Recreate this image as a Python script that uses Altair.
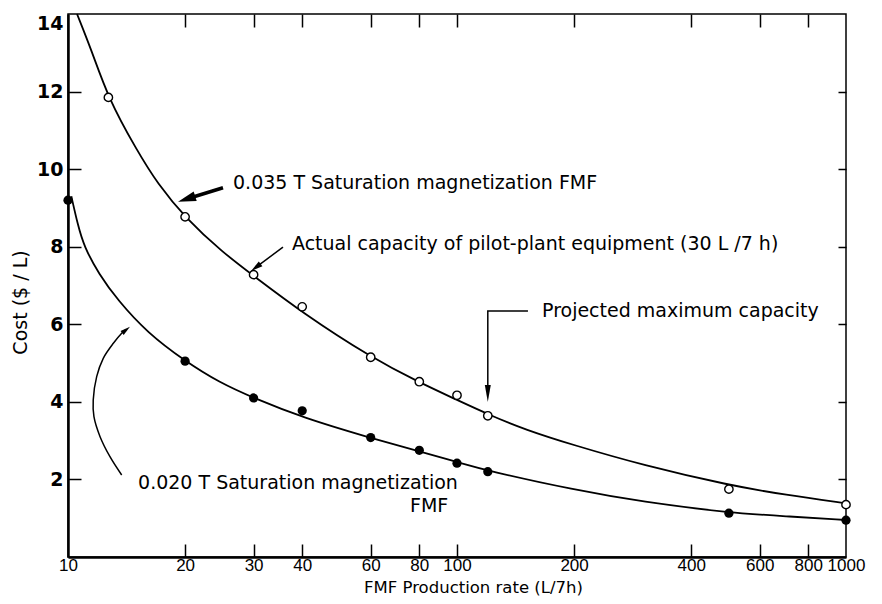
import math
import altair as alt
import pandas as pd

# ---------------- data ----------------
rate_open = [12.7, 20, 30, 40, 60, 80, 100, 120, 500, 1000]
cost_open = [11.85, 8.77, 7.28, 6.45, 5.15, 4.52, 4.17, 3.64, 1.75, 1.35]

rate_filled = [10, 20, 30, 40, 60, 80, 100, 120, 500, 1000]
cost_filled = [9.2, 5.05, 4.10, 3.77, 3.08, 2.75, 2.42, 2.20, 1.13, 0.95]

curve_hi_rate = [10.55, 11.5, 12.7, 15, 17, 20, 25, 30, 40, 60, 80, 100, 120, 150, 200, 300, 500, 700, 1000]
curve_hi_cost = [14.0, 13.06, 11.82, 10.5, 9.62, 8.75, 7.85, 7.25, 6.3, 5.15, 4.5, 4.05, 3.68, 3.28, 2.88, 2.37, 1.85, 1.6, 1.385]

curve_lo_rate = [10.2, 10.6, 11, 12, 13.4, 16, 20, 24.5, 30, 40, 60, 80, 100, 120, 200, 300, 500, 700, 1000]
curve_lo_cost = [9.3, 8.56, 8.0, 7.3, 6.63, 5.78, 5.05, 4.5, 4.1, 3.6, 3.07, 2.72, 2.45, 2.22, 1.73, 1.42, 1.14, 1.05, 0.954]

x_label_values = [10, 20, 30, 40, 60, 80, 100, 200, 400, 600, 800, 1000]
x_tick_values = [20, 30, 40, 60, 80, 100, 200, 400, 600, 800]
y_label_values = [2, 4, 6, 8, 10, 12, 14]
y_tick_values = [2, 4, 6, 8, 10, 12]

# annotation texts (anchored in data space)
note_text = [
    "0.035 T Saturation magnetization FMF",
    "Actual capacity of pilot-plant equipment (30 L /7 h)",
    "Projected maximum capacity",
    "0.020 T Saturation magnetization",
    "FMF",
]
note_rate = [26.56, 37.65, 165.4, 15.14, 75.7]
note_cost = [9.49, 7.915, 6.19, 1.75, 1.16]

# arrow shafts (data space)
arrow1_rate = [25.03, 20.18]
arrow1_cost = [9.52, 9.23]
arrow2_rate = [35.7, 30.4]
arrow2_cost = [7.99, 7.467]
arrow3_rate = [152.2, 120, 120]
arrow3_cost = [6.343, 6.343, 4.228]
arrow4_rate = [13.74, 12.82, 12.09, 11.66, 11.61, 11.85, 12.32, 13.08, 13.74, 14.1]
arrow4_cost = [2.114, 2.586, 3.102, 3.617, 4.048, 4.649, 5.123, 5.51, 5.768, 5.87]

# arrow tips (data space)
tip_rate = [19.18, 29.54, 120, 14.43]
tip_cost = [9.16, 7.374, 3.996, 5.938]
tip_from_rate = [arrow1_rate[-1], arrow2_rate[-1], arrow3_rate[-1], arrow4_rate[-2]]
tip_from_cost = [arrow1_cost[-1], arrow2_cost[-1], arrow3_cost[-1], arrow4_cost[-2]]
tip_shape = ["M0,0L0.5,1.8L-0.5,1.8Z", "M0,0L0.5,2L-0.5,2Z",
             "M0,0L0.35,2L-0.35,2Z", "M0,0L0.5,2L-0.5,2Z"]
tip_size = [400, 144, 289, 100]

# ---------------- layout ----------------
W, H = 778, 543
FONT = "DejaVu Sans"
TICK_FONT = "Liberation Sans"


def to_px(r, c):
    return W * math.log10(r / 10.0) / 2.0, H * (1 - c / 14.0)


def heading(r0, c0, r1, c1):
    x0, y0 = to_px(r0, c0)
    x1, y1 = to_px(r1, c1)
    return math.degrees(math.atan2(x1 - x0, -(y1 - y0))) % 360


tips = pd.DataFrame({
    "rate": tip_rate,
    "cost": tip_cost,
    "angle": [heading(a, b, c, d) for a, b, c, d in zip(tip_from_rate, tip_from_cost, tip_rate, tip_cost)],
    "shape": tip_shape,
    "size": tip_size,
})

df_hi = pd.DataFrame({"rate": curve_hi_rate, "cost": curve_hi_cost})
df_lo = pd.DataFrame({"rate": curve_lo_rate, "cost": curve_lo_cost})
df_open = pd.DataFrame({"rate": rate_open, "cost": cost_open})
df_filled = pd.DataFrame({"rate": rate_filled, "cost": cost_filled})
df_notes = pd.DataFrame({"rate": note_rate, "cost": note_cost, "label": note_text})
df_a1 = pd.DataFrame({"rate": arrow1_rate, "cost": arrow1_cost, "ord": range(len(arrow1_rate))})
df_thin = pd.concat([
    pd.DataFrame({"rate": arrow2_rate, "cost": arrow2_cost, "ord": range(len(arrow2_rate)), "id": "a2"}),
    pd.DataFrame({"rate": arrow3_rate, "cost": arrow3_cost, "ord": range(len(arrow3_rate)), "id": "a3"}),
])
df_a4 = pd.DataFrame({"rate": arrow4_rate, "cost": arrow4_cost, "ord": range(len(arrow4_rate))})

xs = alt.Scale(type="log", domain=[10, 1000])
ys = alt.Scale(domain=[0, 14])

ax_bottom_main = alt.Axis(
    orient="bottom", values=x_label_values, format="d", grid=False,
    domain=True, domainColor="black", domainWidth=2.5,
    ticks=False, tickSize=0,
    labelFont=TICK_FONT, labelFontSize=17, labelColor="black", labelPadding=0.5,
    labelFlush=False, labelOverlap=False,
    title="FMF Production rate (L/7h)", titleFont=FONT, titleFontSize=16.5,
    titleFontWeight="normal", titleColor="black",
    titleX=405, titleY=35, titleAlign="center", titleBaseline="alphabetic",
)
ax_left_main = alt.Axis(
    orient="left", values=y_label_values, format="d", grid=False,
    domain=True, domainColor="black", domainWidth=2.5,
    ticks=False, tickSize=0,
    labelFont=FONT, labelFontSize=19, labelFontWeight="bold", labelColor="black",
    labelPadding=5, labelFlush=True, labelOverlap=False,
    title="Cost ($ / L)", titleFont=FONT, titleFontSize=19, titleFontWeight="normal",
    titleColor="black", titleAngle=270, titleX=-48, titleY=288,
    titleAlign="center", titleBaseline="middle",
)


def tick_axis(orient, values, size):
    return alt.Axis(
        orient=orient, values=values, grid=False, domain=False, labels=False,
        ticks=True, tickSize=size, tickWidth=1.5, tickColor="black",
        offset=-size, title=None,
    )


hi = alt.Chart(df_hi).mark_line(color="black", strokeWidth=1.8, interpolate="basis").encode(
    x=alt.X("rate:Q", scale=xs, axis=ax_bottom_main),
    y=alt.Y("cost:Q", scale=ys, axis=ax_left_main),
)
lo = alt.Chart(df_lo).mark_line(color="black", strokeWidth=1.8, interpolate="basis").encode(
    x=alt.X("rate:Q", scale=xs, axis=tick_axis("bottom", x_tick_values, 13)),
    y=alt.Y("cost:Q", scale=ys, axis=tick_axis("left", y_tick_values, 13)),
)
pts_open = alt.Chart(df_open).mark_point(
    shape="circle", filled=True, fill="white", stroke="black", strokeWidth=1.4, size=70, opacity=1
).encode(
    x=alt.X("rate:Q", scale=xs, axis=tick_axis("top", x_tick_values, 13)),
    y=alt.Y("cost:Q", scale=ys, axis=tick_axis("right", y_tick_values, 8)),
)
pts_filled = alt.Chart(df_filled).mark_circle(color="black", size=85, opacity=1).encode(
    x=alt.X("rate:Q", scale=xs, axis=None),
    y=alt.Y("cost:Q", scale=ys, axis=None),
)
notes = alt.Chart(df_notes).mark_text(
    align="left", baseline="alphabetic", font=FONT, fontSize=19, color="black"
).encode(
    x=alt.X("rate:Q", scale=xs, axis=None),
    y=alt.Y("cost:Q", scale=ys, axis=None),
    text="label:N",
)
a1 = alt.Chart(df_a1).mark_line(color="black", strokeWidth=3.5).encode(
    x=alt.X("rate:Q", scale=xs, axis=None),
    y=alt.Y("cost:Q", scale=ys, axis=None),
    order="ord:Q",
)
thin = alt.Chart(df_thin).mark_line(color="black", strokeWidth=1.5).encode(
    x=alt.X("rate:Q", scale=xs, axis=None),
    y=alt.Y("cost:Q", scale=ys, axis=None),
    detail="id:N",
    order="ord:Q",
)
a4 = alt.Chart(df_a4).mark_line(color="black", strokeWidth=1.5, interpolate="catmull-rom").encode(
    x=alt.X("rate:Q", scale=xs, axis=None),
    y=alt.Y("cost:Q", scale=ys, axis=None),
    order="ord:Q",
)
heads = alt.Chart(tips).mark_point(filled=True, color="black", opacity=1, strokeWidth=0).encode(
    x=alt.X("rate:Q", scale=xs, axis=None),
    y=alt.Y("cost:Q", scale=ys, axis=None),
    shape=alt.Shape("shape:N", scale=None),
    angle=alt.Angle("angle:Q", scale=None),
    size=alt.Size("size:Q", scale=None),
)

chart = (
    alt.layer(hi, lo, pts_open, pts_filled, notes, a1, thin, a4, heads)
    .resolve_axis(x="independent", y="independent")
    .properties(
        width=W, height=H,
        autosize=alt.AutoSizeParams(type="none"),
        padding={"left": 60, "top": 6, "right": 26, "bottom": 39},
        background="white",
    )
    .configure_view(stroke="black", strokeWidth=1.5)
    .configure_axis(grid=False)
)

chart.save("out.html", embed_options={"renderer": "svg", "actions": False})
